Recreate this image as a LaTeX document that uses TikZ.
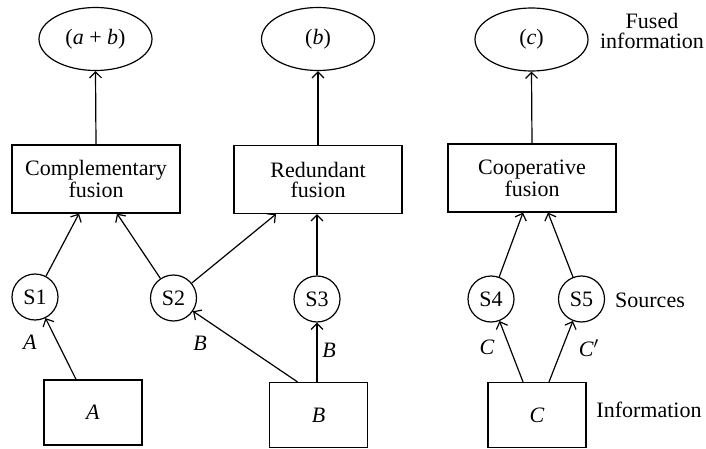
\documentclass[tikz,border=0pt]{standalone}
\usepackage{fontspec}
\setmainfont{Liberation Serif}
\usepackage{tikz}
\usetikzlibrary{shapes.geometric,arrows.meta,calc}

\begin{document}
\begin{tikzpicture}[x=0.5pt, y=-0.5pt, line width=0.6pt,
    font=\fontsize{11}{10}\selectfont,
    fusedinfo/.style={draw, ellipse, inner sep=0pt, minimum width=56.5pt, minimum height=31.5pt},
    fusionbox/.style={draw, rectangle, align=center, minimum width=84pt, minimum height=34pt},
    source/.style={draw, circle, inner sep=0pt, minimum size=23pt},
    infobox/.style={draw, rectangle, minimum width=49pt, minimum height=32.5pt},
    flow/.style={-{Straight Barb[length=3pt,width=6pt]}}]
    \useasboundingbox (0, 0) rectangle (706, 449);
    \node[fusedinfo] (sumAB) at (95.5, 39) {(\textit{a} + \textit{b})}; % Fused.0
\node[fusedinfo] (sumB) at (318, 39) {(\textit{b})}; % Fused.1
\node[fusedinfo] (sumC) at (531.5, 39.5) {(\textit{c})}; % Fused.2
\node[align=center] (fusedlbl) at (652, 31) {Fused\\information}; % Label.0
\node[fusionbox] (comp) at (96, 179) {Complementary\\fusion}; % Fusion.0
\node[fusionbox] (red) at (318, 179.5) {Redundant\\fusion}; % Fusion.1
\node[fusionbox] (coop) at (532, 178) {Cooperative\\fusion}; % Fusion.2
\node[source] (S1) at (35, 297) {S1}; % Source.0
\node[source] (S2) at (173.5, 298) {S2}; % Source.1
\node[source] (S3) at (317, 299) {S3}; % Source.2
\node[source] (S4) at (491, 299) {S4}; % Source.3
\node[source] (S5) at (581.5, 299) {S5}; % Source.4
\node (srclbl) at (650, 300) {Sources}; % Label.1
\node[infobox] (infoA) at (93, 412.5) {\textit{A}}; % Info.0
\node[infobox] (infoB) at (318.5, 415) {\textit{B}}; % Info.1
\node[infobox] (infoC) at (537, 415) {\textit{C}}; % Info.2
\node (infolbl) at (649, 410) {Information}; % Label.2
\draw[flow] ($(infoA.north)+(-17, 0)$) -- (S1); % InfoA.S1
\node (lblA) at (30, 342) {\textit{A}}; % InfoA.S1
\draw[flow] ($(infoB.north)+(-21, 0)$) -- (S2); % InfoB.S2
\node (lblB1) at (200, 343) {\textit{B}}; % InfoB.S2
\draw[flow] (infoB.north -| S3) -- (S3); % InfoB.S3
\node (lblB2) at (329, 350) {\textit{B}}; % InfoB.S3
\draw[flow] ($(infoC.north)+(-14, 0)$) -- (S4); % InfoC.S4
\node (lblC1) at (487, 347) {\textit{C}}; % InfoC.S4
\draw[flow] ($(infoC.north)+(12, 0)$) -- (S5); % InfoC.S5
\node (lblC2) at (589, 348) {\textit{C}$'$}; % InfoC.S5
\draw[flow] (S1) -- ($(comp.south)+(-17, 0)$); % S1.comp
\draw[flow] (S2) -- ($(comp.south)+(21, 0)$); % S2.comp
\draw[flow] (S2) -- ($(red.south)+(-42, 0)$); % S2.red
\draw[flow] (S3) -- (S3 |- red.south); % S3.red
\draw[flow] (S4) -- ($(coop.south)+(-9, 0)$); % S4.coop
\draw[flow] (S5) -- ($(coop.south)+(16, 0)$); % S5.coop
\draw[flow] (comp.north) -- (sumAB.south); % comp.sumAB
\draw[flow] (red.north) -- (sumB.south); % red.sumB
\draw[flow] (coop.north) -- (sumC.south); % coop.sumC

    \end{tikzpicture}
\end{document}
